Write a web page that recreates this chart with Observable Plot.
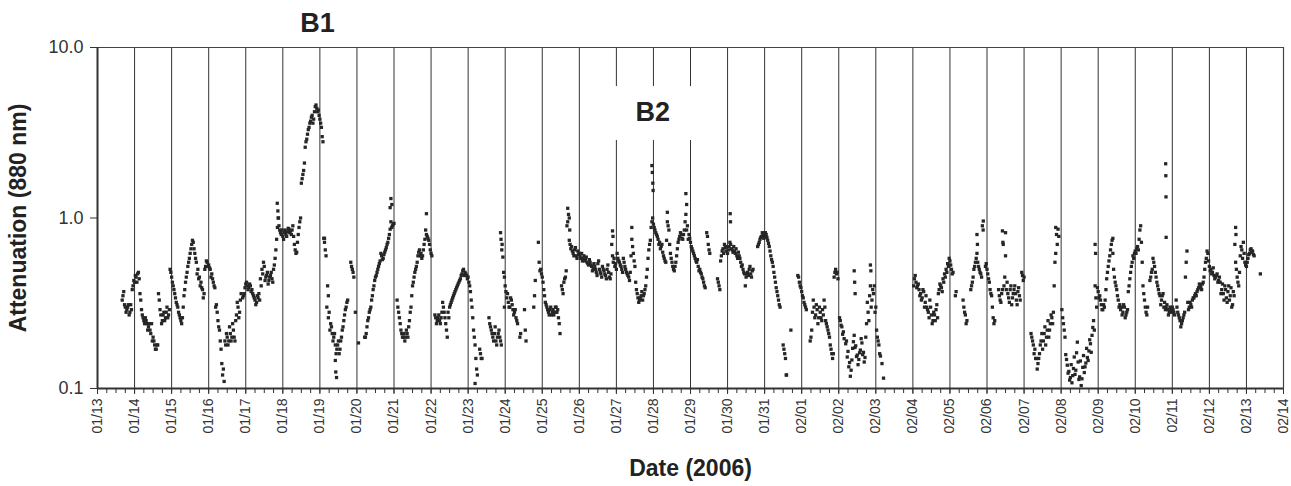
<!DOCTYPE html>
<html><head><meta charset="utf-8">
<script src="https://cdn.jsdelivr.net/npm/d3@7"></script>
<script src="https://cdn.jsdelivr.net/npm/@observablehq/plot@0.6"></script>
<style>body{margin:0;background:#fff}#chart svg{display:block}</style>
</head><body><div id="chart"></div>
<script>
// Attenuation (880 nm) readings on the hour, starting 2006-01-13 00:00 (one row per day); null = no data
const week1 = [null,null,null,null,null,null,null,null,null,null,null,null,null,null,null,null,.33,.37,.30,.29,.31,.28,.29,.40,
 .42,.45,.47,.44,.33,.27,.25,.26,.24,.23,.22,.24,.20,.18,.17,.18,.33,.27,.25,.28,.26,.30,.27,.50,
 .45,.40,.36,.32,.30,.27,.25,.26,.35,.42,.48,.55,.62,.70,.72,.62,.55,.50,.45,.42,.38,.36,.52,.55,
 .53,.50,.47,.42,.39,.31,.25,.22,.17,.12,.11,.18,.20,.19,.21,.20,.22,.19,.27,.30,.28,.36,.34,.36,
 .41,.40,.39,.40,.38,.35,.33,.32,.34,.33,.40,.47,.52,.45,.48,.43,.46,.44,.50,.58,.75,1.0,.85,.80,
 .78,.82,.80,.83,.86,.84,.85,.78,.65,.63,.80,.95,1.6,1.8,2.1,2.8,3.1,3.4,3.7,4.0,3.8,4.5,4.4,4.3,
 3.8,3.4,2.8,.72,.60,.40,.28,.24,.21,.20,.18,.17,.19,.17,.20,.23,.27,.30,.33,null,.55,.50,.45,.28];
const week2 = [null,.185,null,null,null,.20,.21,.25,.28,.30,.35,.40,.45,.48,.52,.56,.60,.58,.63,.67,.72,.80,.95,.90,
 .93,null,.33,.28,.24,.21,.20,.19,.22,.20,.25,.30,.40,.45,.50,.55,.63,.60,.58,.65,.75,.80,.76,.70,
 .62,null,null,.26,.25,.27,.24,.28,.30,.26,.22,.28,.30,.32,.34,.36,.38,.40,.42,.44,.47,.50,.48,.46,
 .45,.40,.33,.26,.20,.15,.12,null,.16,.15,null,null,null,null,.24,.22,.20,.21,.19,.20,.22,.19,.70,.48,
 .40,.34,.32,.30,.33,.29,.28,.26,.24,null,.21,null,null,.22,null,null,null,null,null,.35,null,null,.55,.50,
 .45,.38,.32,.30,.28,.29,.27,.29,.28,.30,.29,.24,null,.38,.42,.45,.90,1.05,.70,.68,.62,.65,.60,.64,
 .62,.58,.56,.60,.57,.55,.53,.55,.52,.50,.52,.48,.54,.50,.47,.52,.49,.46,.50,.48,.44,.70,.55,.52];
const week3 = [.50,.58,.55,.52,.48,.55,.50,.47,.45,.48,.75,.62,.52,.38,.34,.33,.35,.33,.36,.40,.50,.65,.74,.95,
 .92,.85,.80,.75,.72,.68,.63,.58,.55,.95,.85,.62,.55,.50,.52,.60,.72,.78,.80,.75,.85,1.05,.90,.80,
 .72,.66,.62,.58,.55,.52,.50,.47,.44,.40,null,.78,.65,null,null,null,null,null,.42,.38,.60,.66,.70,.64,
 .62,.68,.70,.65,.68,.62,.60,.63,.58,.52,.50,.47,.45,.48,.50,.47,.49,null,null,null,.70,.75,.78,.80,
 .78,.80,.74,.68,.60,.55,.48,.42,.37,.33,.30,null,.18,.16,.12,null,null,.22,null,null,null,null,.45,.40,
 .37,.34,.31,.29,null,null,.20,.28,.30,.27,.29,.26,.28,.25,.27,.30,.24,.22,.20,.17,.15,.45,.50,.48,
 null,.25,.23,.215,null,.19,.165,.142,.128,.172,.205,.178,.157,.148,.168,.185,.163,.152,.24,.28,.35,.30,.38,.40];
const week4 = [.30,.20,.18,.155,.14,.115,null,null,null,null,null,null,null,null,null,null,null,null,null,null,null,null,null,null,
 null,.44,.42,.40,.38,.36,.34,.37,.32,.30,.28,.33,.27,.25,.27,.29,.26,.38,.40,.37,.42,.45,.48,.52,
 .56,.50,.48,null,.37,null,null,null,null,.30,.27,.25,null,null,.40,.45,.52,.58,.55,.50,.47,.90,null,.52,
 .50,.44,.38,.35,.26,.25,null,null,.35,.32,.38,.40,.60,.42,.34,.38,.31,.36,.40,.33,.37,.35,null,.46,
 .45,null,null,null,null,.20,.18,.17,.15,.14,.16,.19,.17,.21,.18,.22,.20,.24,.26,.28,.55,.80,.86,null,
 null,.26,.22,.158,.137,.126,.116,.108,.131,.121,.162,.143,.117,.104,.133,.124,.141,.152,.166,.183,.205,.25,.40,.30,
 .37,.35,.31,.29,.30,.38,.48,.56,.65,.74,.50,.42,.38,.33,.31,.30,.28,.30,.27,.29,.40,.48,.55,.58];
const week5 = [.64,.66,.65,.85,.72,.40,.33,.28,.30,null,.45,.50,.55,.48,.42,.38,.35,.33,.36,.32,.30,.29,.28,.29,
 .30,.28,null,.30,.27,.25,.24,.26,.28,.55,.32,.30,.31,.33,.34,.36,.37,.39,.40,.38,.42,.50,.58,.62,
 .52,.50,.48,.46,.45,.47,.43,.42,.38,.36,.40,.34,.37,.33,.39,.31,.35,.55,.45,.40,.60,.65,.72,.55,
 .52,.58,.62,.66,.64,.60,null,null,null,.47];
// readings on the half hour (hh:30), same layout
const week1h = [null,null,null,null,null,null,null,null,null,null,null,null,null,null,null,null,.35,.31,.28,.30,.27,.31,.38,.43,
 .46,.42,.48,.36,.29,.26,.24,.25,.22,.24,.21,.19,.19,.17,.18,.36,.29,.24,.27,.25,.28,.26,.29,.48,
 .42,.38,.34,.31,.28,.26,.24,.30,.38,.45,.52,.58,.66,.74,.66,.58,.47,.44,.40,.39,.34,.50,.56,.52,
 .51,.45,.44,.40,.30,.28,.23,.19,.14,.13,.19,.21,.18,.23,.19,.24,.20,.25,.32,.26,.33,null,.35,.39,
 .42,.38,.41,.37,.36,.34,.31,.35,.36,.44,.50,.55,.43,.46,.41,.45,.48,.42,.53,.65,.88,.90,.82,.85,
 .75,.85,.78,.87,.82,.80,.90,.70,.62,.72,.88,1.0,1.7,1.9,2.6,2.9,3.3,3.6,3.9,3.6,4.2,4.6,4.2,4.0,
 3.6,3.0,.76,.65,.30,.26,.22,.23,.19,.21,.16,.18,.16,.19,.22,.25,.29,.32,null,null,.52,.48,null,null];
const week2h = [null,null,null,null,null,.20,.23,.26,.29,.33,.38,.43,.46,.50,.54,.62,.57,.61,.65,.70,.76,.86,.88,.92,
 null,null,.30,.26,.22,.20,.21,.20,.21,.23,.28,.35,.42,.48,.52,.60,.65,.62,.60,.70,.85,.78,.74,.65,
 .60,null,.27,.24,.26,.25,.26,.32,.28,.24,.20,.26,.31,.33,.35,.37,.39,.41,.43,.46,.49,.46,.47,.44,
 .42,.37,.30,.22,.18,null,null,.17,.15,null,null,null,null,.26,.23,.21,.19,.23,.18,.21,.20,.18,.59,.45,
 .37,.36,.30,.34,.31,.27,.29,.25,null,.20,null,null,.29,.19,null,null,null,null,.30,.43,null,.72,.49,.47,
 .42,.35,.31,.29,.27,.30,.28,.27,.30,.28,.26,.21,.40,.36,.44,.49,.95,.74,.66,.64,.60,.67,.58,.61,
 .60,.62,.58,.56,.59,.54,.57,.53,.49,.54,.50,.46,.56,.48,.45,.50,.47,.44,.53,.45,.47,.60,.58,.54];
const week3h = [.62,.56,.53,.50,.58,.52,.48,.46,.43,.60,.68,.56,.42,.36,.32,.34,.37,.35,.38,.45,.58,.70,.88,1.0,
 .88,.82,.78,.70,.66,.70,.60,.56,.74,.90,.70,.58,.52,.49,.55,.66,.75,.82,.76,.80,.95,.85,.75,.76,
 .68,.64,.60,.56,.57,.49,.48,.45,.42,.39,.82,.70,.62,null,null,null,null,.44,.40,.56,.64,.62,.67,.68,
 .65,.72,.66,.63,.64,.66,.58,.60,.55,.53,.48,.40,.47,.46,.52,.45,.50,null,null,.68,.72,.77,.82,.76,
 .82,.77,.71,.64,.57,.52,.45,.39,.35,.31,null,null,.17,.15,null,null,null,null,null,null,null,.46,.42,.39,
 .35,.32,.30,null,null,.19,.22,.33,.26,.31,.24,.30,.26,.29,.33,.25,.23,.21,.18,.16,.16,.48,.47,.44,
 .26,.235,.208,.196,.183,.153,.134,.118,.147,.188,.174,.154,.138,.162,.196,.158,.143,.20,.32,.25,.40,.33,.36,.28];
const week4h = [.22,.19,.16,null,null,null,null,null,null,null,null,null,null,null,null,null,null,null,null,null,null,null,null,null,
 .40,.46,.39,.41,.35,.33,.38,.30,.35,.29,.26,.30,.24,.28,.25,.31,.36,.41,.39,.44,.47,.50,.54,.58,
 .53,.47,null,.35,null,null,null,null,.33,.28,.24,null,null,.38,.42,.50,.55,.62,.52,.48,.45,.85,null,.54,
 .47,.42,.36,.30,.24,null,null,.38,.33,.36,.70,.45,.38,.36,.32,.40,.34,.38,.36,.31,.39,.33,.48,.43,
 null,null,null,null,.21,.19,.16,.15,.13,.15,.18,.21,.19,.23,.20,.25,.22,.27,.24,.40,.62,.70,.78,null,
 .29,.24,.20,.148,.123,.112,.138,.119,.153,.128,.187,.113,.145,.114,.156,.134,.172,.146,.193,.163,.228,.22,.34,.39,
 .34,.33,.29,.31,.33,.44,.52,.60,.70,.62,.45,.40,.35,.30,.29,.27,.31,.26,.28,.37,.44,.52,.60,.62];
const week5h = [.62,.68,.75,.90,.55,.36,.30,.27,null,.43,.48,.58,.52,.45,.40,.36,.31,.35,.30,.29,.31,.27,.30,.28,
 .29,.27,.33,.28,.26,.23,.25,.27,.45,.64,.29,.32,.30,.34,.35,.35,.38,.41,.39,.41,.45,.55,.64,.56,
 .49,.47,.51,.44,.46,.42,.45,.36,.41,.33,.38,.32,.40,.35,.30,.37,.70,.50,.42,.48,.68,.58,.62,.53,
 .55,.61,.65,.63,.61];
// isolated readings: [hours after 2006-01-13 00:00, attenuation]
const extraHours  = [116.4,116.8,117.2,147,149.5,154,154.3,154.8,189.5,190,190.6,213,244.5,245.5,261,261.3,261.8,263.5,
  304.5,305.5,305.8,333.5,333.8,346,359,359.3,359.6,359.8,369,381,381.5,409.7,409.9,446.2,490,490.3,490.6,500.5,500.8,
  569.5,569.8,573.6,586,586.3,588,620.5,646,646.3,657.5,691.7,691.8,691.9,692.0,737,737.2];
const extraValues = [1.22,1.1,1.0,.76,.35,.146,.125,.116,1.15,1.3,1.2,1.06,.107,.13,.82,.75,.65,.30,
  1.14,1.0,.85,.84,.78,.88,2.03,1.85,1.6,1.45,1.08,1.39,1.2,1.06,.95,.12,.49,.42,.36,.53,.49,
  .80,.70,.96,.84,.72,.82,.88,.70,.62,.76,2.08,1.77,1.33,.77,.88,.80];

const dayLabels = ["01/13","01/14","01/15","01/16","01/17","01/18","01/19","01/20","01/21","01/22","01/23","01/24",
 "01/25","01/26","01/27","01/28","01/29","01/30","01/31","02/01","02/02","02/03","02/04","02/05","02/06","02/07",
 "02/08","02/09","02/10","02/11","02/12","02/13","02/14"];
const yTicks = [0.1, 1, 10];
const yTickLabels = ["0.1", "1.0", "10.0"];
const eventLabels = ["B1", "B2"];
const eventHours = [142.5, 359.5];
const eventValues = [13.8, 4.19];

const T0 = Date.UTC(2006, 0, 13);
const H = 3600e3;
const points = [];
function addWeeks(weeks, offset) {
  weeks.forEach((arr, w) => arr.forEach((v, i) => {
    if (v != null) points.push({t: new Date(T0 + (w * 168 + i + offset) * H), v});
  }));
}
addWeeks([week1, week2, week3, week4, week5], 0);
addWeeks([week1h, week2h, week3h, week4h, week5h], 0.5);
extraHours.forEach((h, i) => points.push({t: new Date(T0 + h * H), v: extraValues[i]}));

const dayDates = dayLabels.map(s => { const [m, d] = s.split("/").map(Number); return new Date(Date.UTC(2006, m - 1, d)); });
const labelOf = new Map(dayDates.map((d, i) => [+d, dayLabels[i]]));
const sixHour = d3.utcHour.every(6).range(dayDates[0], new Date(+dayDates[dayDates.length - 1] + 1));
const xmin = dayDates[0], xmax = dayDates[dayDates.length - 1];
const events = eventLabels.map((s, i) => ({s, t: new Date(T0 + eventHours[i] * H), v: eventValues[i]}));
const b2box = [{x1: new Date(T0 + 330 * H), x2: new Date(T0 + 390.5 * H), y1: 2.85, y2: 5.9}];

const chart = Plot.plot({
  width: 1291, height: 486,
  marginLeft: 97, marginRight: 8, marginTop: 47, marginBottom: 98,
  style: {fontFamily: "'Liberation Sans', Arial, sans-serif", color: "#333", background: "#fff"},
  x: {type: "utc", domain: [xmin, xmax]},
  y: {type: "log", domain: [0.1, 10]},
  marks: [
    Plot.ruleX(dayDates.slice(1, -1), {stroke: "#333", strokeWidth: 1}),
    Plot.rect(b2box, {x1: "x1", x2: "x2", y1: "y1", y2: "y2", fill: "white"}),
    Plot.dot(points, {x: "t", y: "v", symbol: "square", r: 1.85, fill: "#262626", stroke: null}),
    Plot.ruleY([10], {stroke: "#444", strokeWidth: 1.2}),
    Plot.ruleX([xmax], {stroke: "#444", strokeWidth: 1.2}),
    Plot.ruleY([0.1], {stroke: "#333", strokeWidth: 2}),
    Plot.ruleX([xmin], {stroke: "#333", strokeWidth: 2}),
    Plot.axisX(sixHour, {tickSize: 5, tickFormat: () => "", label: null, stroke: "#333"}),
    Plot.axisX(dayDates, {tickSize: 6, tickRotate: -90, tickPadding: 4, fontSize: 14, label: null,
      tickFormat: d => labelOf.get(+d), stroke: "#333", fill: "#333"}),
    Plot.axisY(yTicks, {tickSize: 7, tickPadding: 7, fontSize: 18, label: null,
      tickFormat: d => yTickLabels[yTicks.indexOf(d)], stroke: "#333", fill: "#333"}),
    Plot.text(["Date (2006)"], {frameAnchor: "bottom", dy: 87, fontSize: 23, fontWeight: "bold", fill: "#222"}),
    Plot.text(["Attenuation (880 nm)"], {frameAnchor: "left", textAnchor: "middle", dx: -79, rotate: -90,
      fontSize: 23, fontWeight: "bold", fill: "#222"}),
    Plot.text(events, {x: "t", y: "v", text: "s", fontSize: 27, fontWeight: "bold", fill: "#222"})
  ]
});
document.getElementById("chart").append(chart);
</script>
</body></html>
